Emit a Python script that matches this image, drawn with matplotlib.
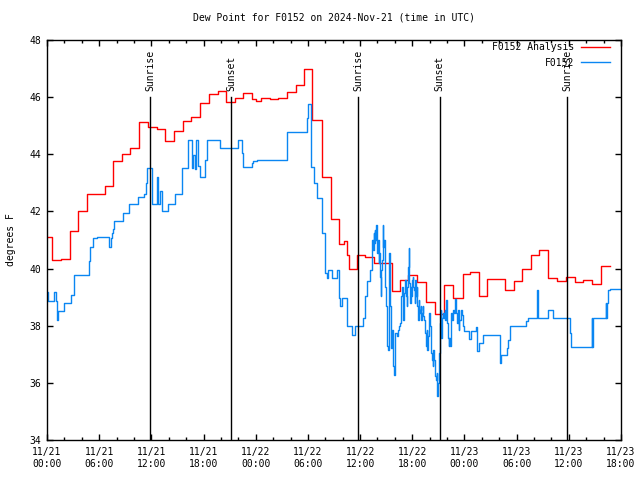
import matplotlib
matplotlib.use("Agg")
import matplotlib.pyplot as plt
import matplotlib.dates as mdates
import pandas as pd

plt.rcParams['font.family'] = ['DejaVu Sans Mono']
plt.rcParams['font.size'] = 7

C_RED = "#ff0000"
C_BLUE = "#0a86f2"

START = pd.Timestamp("2024-11-21 00:00")
SPAN_H = 66

# F0152 Analysis: hours since start, dew point (F), step series
analysis_hours = [0.00, 0.57, 1.61, 2.59, 3.56, 4.60, 6.67, 7.59, 8.62, 9.54,
                  10.57, 11.61, 12.64, 13.56, 14.60, 15.63, 16.61, 17.59, 18.62, 19.62,
                  20.57, 21.61, 22.53, 23.56, 24.02, 24.60, 25.63, 26.55, 27.59, 28.62,
                  29.54, 30.46, 31.61, 32.64, 33.56, 34.14, 34.44, 34.71, 35.60, 36.55,
                  37.59, 39.62, 40.57, 41.53, 42.57, 43.56, 44.60, 45.63, 46.67, 47.82,
                  48.62, 49.66, 50.57, 52.64, 53.68, 54.60, 55.63, 56.55, 57.59, 58.62,
                  59.66, 60.69, 61.61, 62.64, 63.68, 64.71]
analysis_dewpt = [41.11, 40.30, 40.33, 41.33, 42.03, 42.60, 42.90, 43.77, 44.00, 44.22,
                  45.12, 44.95, 44.88, 44.47, 44.82, 45.18, 45.30, 45.81, 46.10, 46.22,
                  45.84, 45.98, 46.16, 45.95, 45.85, 45.98, 45.92, 45.96, 46.17, 46.43,
                  46.97, 45.20, 43.19, 41.73, 40.87, 40.96, 40.48, 39.98, 40.48, 40.40,
                  40.21, 39.20, 39.60, 39.76, 39.52, 38.84, 38.42, 39.42, 38.97, 39.82,
                  39.88, 39.04, 39.65, 39.26, 39.57, 39.99, 40.48, 40.64, 39.67, 39.57,
                  39.70, 39.54, 39.60, 39.47, 40.09, 40.09]

# F0152 observations
obs_hours = [0.00, 0.15, 0.80, 1.09, 1.18, 1.30, 1.90, 2.72, 3.14, 4.79,
             4.91, 5.34, 5.75, 7.09, 7.32, 7.47, 7.59, 7.74, 8.74, 9.46,
             10.52, 11.15, 11.34, 11.46, 12.03, 12.70, 12.82, 12.99, 13.18, 13.87,
             14.71, 15.48, 16.24, 16.63, 16.78, 17.01, 17.13, 17.39, 17.59, 18.16,
             18.36, 19.89, 21.99, 22.38, 22.49, 23.60, 23.68, 24.10, 27.55, 29.92,
             30.03, 30.31, 30.72, 31.00, 31.57, 31.64, 32.01, 32.18, 32.33, 32.72,
             33.37, 33.56, 33.68, 33.87, 34.54, 35.11, 35.46, 36.36, 36.61, 36.84,
             37.13, 37.32, 37.39, 37.47, 37.55, 37.62, 37.66, 37.74, 37.82, 37.89,
             37.97, 38.05, 38.12, 38.20, 38.28, 38.35, 38.43, 38.51, 38.58, 38.66,
             38.74, 38.81, 38.89, 38.97, 39.04, 39.12, 39.20, 39.27, 39.35, 39.43,
             39.50, 39.58, 39.66, 39.73, 39.81, 39.89, 39.96, 40.04, 40.19, 40.38,
             40.50, 40.57, 40.65, 40.73, 40.80, 40.88, 40.96, 41.03, 41.11, 41.19,
             41.26, 41.34, 41.42, 41.49, 41.57, 41.65, 41.72, 41.80, 41.88, 41.95,
             42.03, 42.11, 42.18, 42.26, 42.34, 42.41, 42.49, 42.57, 42.64, 42.72,
             42.80, 42.87, 42.95, 43.03, 43.10, 43.18, 43.26, 43.33, 43.49, 43.56,
             43.64, 43.72, 43.79, 43.87, 43.95, 44.02, 44.10, 44.18, 44.25, 44.33,
             44.41, 44.48, 44.56, 44.64, 44.71, 44.79, 44.87, 44.94, 45.02, 45.10,
             45.17, 45.25, 45.33, 45.40, 45.52, 45.63, 45.71, 45.79, 45.86, 45.94,
             46.02, 46.09, 46.17, 46.25, 46.32, 46.40, 46.48, 46.59, 46.70, 46.78,
             46.86, 46.93, 47.01, 47.09, 47.17, 47.24, 47.32, 47.39, 47.55, 47.62,
             47.70, 47.78, 47.85, 47.93, 48.54, 48.70, 48.81, 49.31, 49.46, 49.69,
             50.08, 52.07, 52.18, 52.91, 53.03, 53.22, 55.13, 55.25, 56.36, 56.48,
             57.62, 58.20, 60.11, 60.23, 62.61, 62.68, 62.76, 64.25, 64.33, 64.44,
             64.52, 64.71, 65.98]
obs_dewpt = [39.19, 38.87, 39.19, 38.87, 38.21, 38.52, 38.79, 39.08, 39.76, 40.27,
             40.75, 41.07, 41.10, 40.75, 41.08, 41.26, 41.40, 41.65, 41.94, 42.25,
             42.50, 42.60, 42.99, 43.53, 42.25, 43.22, 42.25, 42.70, 42.00, 42.26,
             42.60, 43.53, 44.50, 43.53, 43.98, 43.50, 44.50, 43.60, 43.22, 43.80,
             44.50, 44.21, 44.50, 44.04, 43.55, 43.70, 43.75, 43.80, 44.79, 45.26,
             45.76, 43.57, 42.99, 42.47, 41.88, 41.24, 39.84, 39.67, 39.96, 39.67,
             39.96, 38.97, 38.70, 38.97, 37.98, 37.69, 37.98, 38.27, 39.03, 39.55,
             39.96, 40.54, 41.01, 40.66, 41.24, 40.89, 41.36, 41.01, 41.53, 41.12,
             40.54, 41.01, 40.19, 40.54, 39.72, 39.03, 39.96, 40.31, 41.53, 40.77,
             41.01, 40.19, 39.37, 38.68, 37.74, 37.28, 37.16, 38.21, 40.54, 38.68,
             38.33, 37.22, 37.86, 37.04, 36.58, 36.29, 37.28, 37.74, 37.63, 37.86,
             37.98, 38.09, 38.68, 39.03, 39.37, 38.91, 38.21, 39.14, 39.37, 39.60,
             39.03, 38.68, 39.37, 40.07, 40.71, 39.49, 38.79, 39.37, 39.03, 39.60,
             39.72, 39.37, 39.26, 38.79, 39.60, 39.03, 39.37, 38.68, 38.21, 38.91,
             38.44, 38.56, 38.68, 38.21, 38.44, 38.68, 38.33, 38.21, 37.74, 37.28,
             37.86, 37.16, 37.63, 38.21, 38.44, 37.98, 37.86, 37.04, 36.81, 36.58,
             37.16, 36.81, 36.35, 36.23, 36.11, 36.35, 35.53, 36.00, 36.11, 37.04,
             38.09, 38.56, 37.57, 38.27, 38.44, 38.27, 38.56, 38.21, 38.91, 38.56,
             38.09, 37.57, 37.28, 37.57, 37.28, 38.09, 38.44, 38.21, 38.56, 38.44,
             38.73, 38.94, 38.44, 38.21, 38.09, 38.56, 37.86, 38.21, 38.38, 38.56,
             38.38, 38.21, 37.98, 37.82, 37.53, 37.68, 37.82, 37.94, 37.12, 37.39,
             37.68, 36.69, 36.98, 37.22, 37.49, 38.00, 38.15, 38.27, 39.26, 38.27,
             38.56, 38.27, 37.74, 37.25, 38.27, 37.25, 38.27, 38.79, 38.27, 38.79,
             39.26, 39.28, 39.28]

sun_hours = [11.85, 21.15, 35.80, 45.17, 59.80]
sun_labels = ["Sunrise", "Sunset", "Sunrise", "Sunset", "Sunrise"]

y_min, y_max = 34, 48


def to_time(hours):
    return START + pd.to_timedelta(hours, unit="h")


fig = plt.figure(figsize=(6.4, 4.8), dpi=100, facecolor="white")
ax = fig.add_axes([47 / 640, 40 / 480, 574 / 640, 400 / 480])

line_a, = ax.step(to_time(analysis_hours), analysis_dewpt, where="post",
                  color=C_RED, lw=1.0, label="F0152 Analysis")
line_o, = ax.step(to_time(obs_hours), obs_dewpt, where="post",
                  color=C_BLUE, lw=1.0, label="F0152")

# sunrise / sunset markers
for h, lab in zip(sun_hours, sun_labels):
    t = to_time(h)
    ax.plot([t, t], [y_min, 46.0], color="black", lw=1.0, zorder=3)
    ax.text(t, 46.2, lab, rotation=90, ha="center", va="bottom", fontsize=7)

ax.set_xlim(to_time(0), to_time(SPAN_H))
ax.set_ylim(y_min, y_max)
ax.set_yticks(range(y_min, y_max + 1, 2))
ax.xaxis.set_major_locator(mdates.HourLocator(byhour=range(0, 24, 6)))
ax.xaxis.set_minor_locator(mdates.HourLocator(byhour=range(0, 24, 2)))
ax.xaxis.set_major_formatter(mdates.DateFormatter("%m/%d\n%H:%M"))

ax.tick_params(which="both", direction="in", top=True, right=True, labelsize=7, width=1.0)
ax.tick_params(which="major", length=4.5, pad=5)
ax.tick_params(which="minor", length=2.2)
ax.tick_params(axis="y", pad=4)
for s in ax.spines.values():
    s.set_linewidth(1.0)

ax.set_ylabel("degrees F", fontsize=7, labelpad=10)
ax.set_title("Dew Point for F0152 on 2024-Nov-21 (time in UTC)", fontsize=7, pad=14)

ax.legend(handles=[line_a, line_o], loc="upper right", bbox_to_anchor=(0.985, 1.0),
          frameon=False, markerfirst=False, fontsize=7, handlelength=3.0,
          handletextpad=0.7, labelspacing=0.6, borderaxespad=0.0, borderpad=0.2)

fig.savefig("out.png", dpi=100, facecolor="white")
